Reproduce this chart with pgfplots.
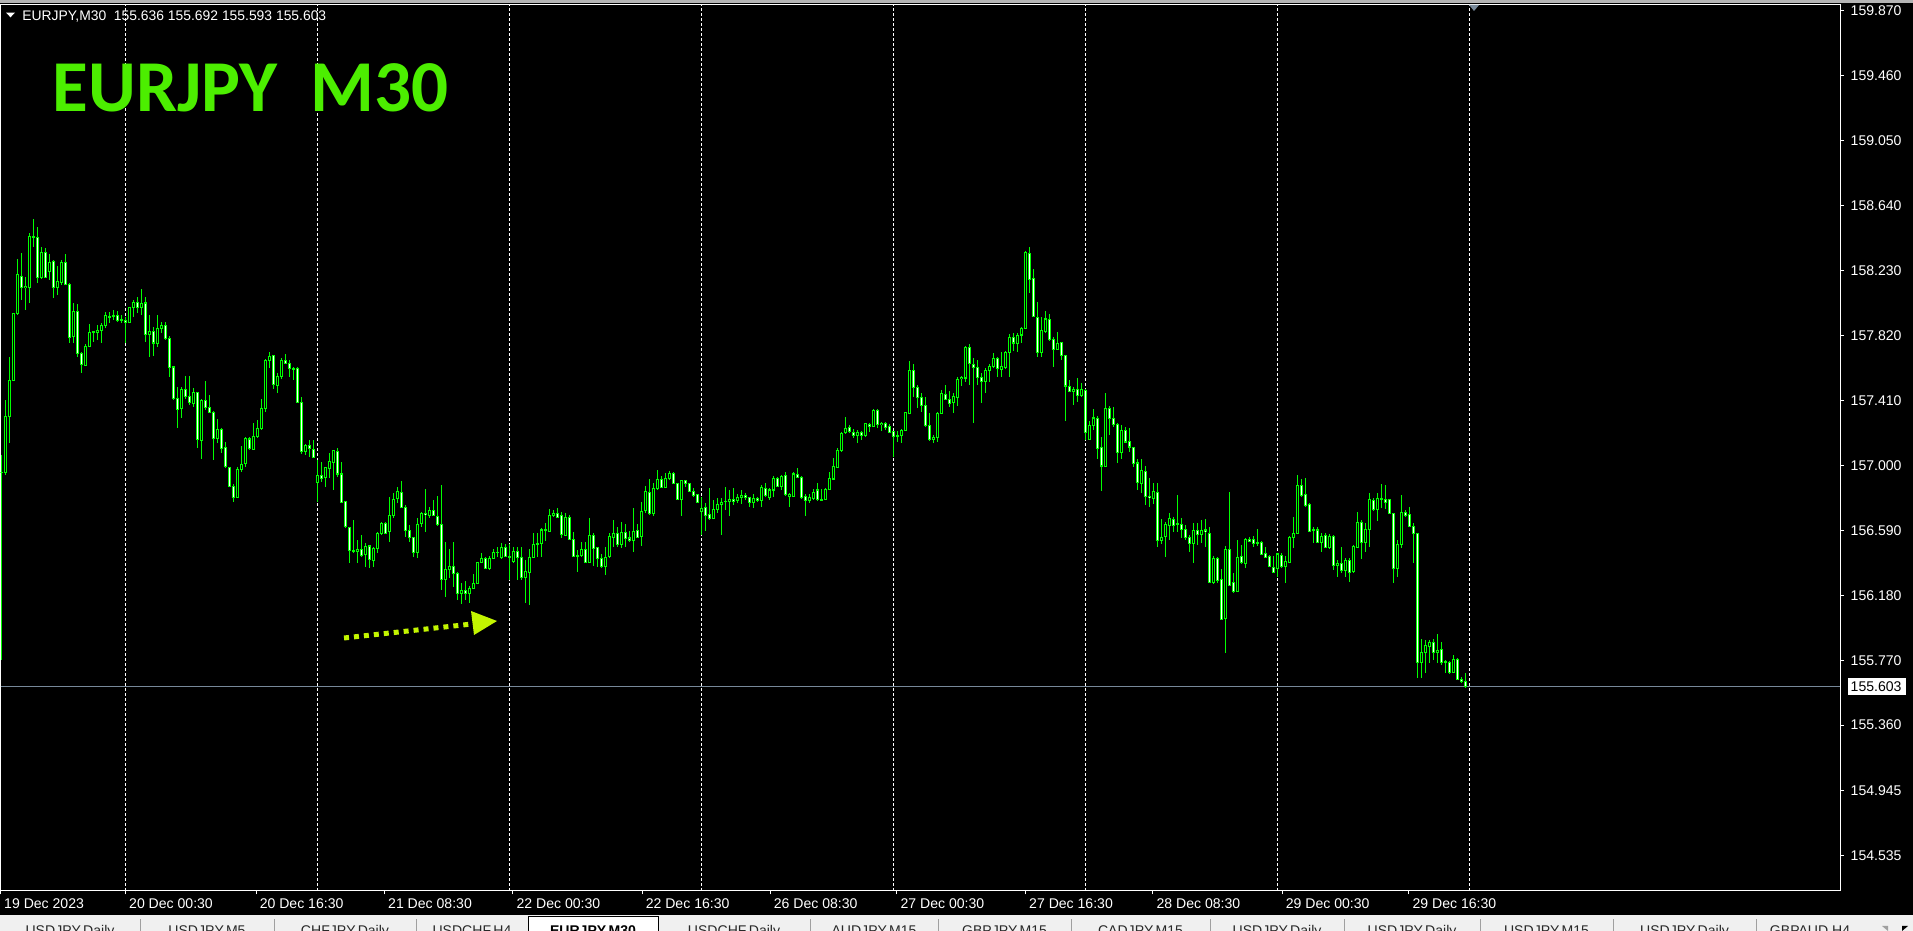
\documentclass[border=0pt]{standalone}
\usepackage{fontspec}
\setmainfont{Liberation Sans}
\newfontfamily\titlefont{Carlito}
\usepackage{pgfplots}
\usepackage{pgfplotstable}
\pgfplotsset{compat=1.18}
\definecolor{cndl}{RGB}{0,255,0}
\definecolor{titlegreen}{RGB}{76,238,0}
\definecolor{pricegray}{RGB}{119,136,153}
\definecolor{arrowgreen}{RGB}{195,245,0}
\definecolor{topgray}{RGB}{180,180,180}
\definecolor{tabgray}{RGB}{240,240,240}
\definecolor{sepgray}{RGB}{160,160,160}
\pgfplotstableread{
k o h l c
0 156.952 157.066 155.771 156.958
1 156.952 157.413 156.939 157.306
2 157.306 157.684 157.141 157.539
3 157.539 157.962 157.539 157.962
4 157.962 158.303 157.949 158.208
5 158.196 158.341 158.044 158.126
6 158.126 158.189 157.981 158.133
7 158.126 158.467 158.025 158.448
8 158.448 158.556 158.379 158.442
9 158.442 158.505 158.152 158.189
10 158.189 158.379 158.177 158.347
11 158.347 158.372 158.189 158.189
12 158.227 158.334 158.170 158.284
13 158.284 158.297 158.057 158.120
14 158.120 158.259 158.076 158.158
15 158.158 158.297 158.139 158.284
16 158.284 158.334 158.139 158.145
17 158.145 158.152 157.773 157.810
18 157.817 158.025 157.773 157.975
19 157.975 158.019 157.684 157.710
20 157.710 157.716 157.583 157.640
21 157.634 157.766 157.627 157.754
22 157.754 157.893 157.747 157.842
23 157.842 157.848 157.779 157.848
24 157.842 157.886 157.792 157.855
25 157.855 157.899 157.773 157.886
26 157.886 157.968 157.867 157.949
27 157.943 157.968 157.899 157.937
28 157.943 157.981 157.918 157.949
29 157.949 157.975 157.905 157.912
30 157.912 157.949 157.899 157.918
31 157.918 157.937 157.773 157.905
32 157.905 158.000 157.899 158.000
33 158.000 158.044 157.937 158.032
34 158.032 158.063 157.962 158.000
35 158.000 158.114 157.949 158.025
36 158.025 158.063 157.779 157.829
37 157.829 157.949 157.684 157.848
38 157.848 157.874 157.691 157.773
39 157.773 157.949 157.747 157.867
40 157.867 157.905 157.836 157.886
41 157.886 157.905 157.792 157.804
42 157.804 157.817 157.558 157.621
43 157.621 157.621 157.413 157.425
44 157.425 157.495 157.236 157.356
45 157.356 157.495 157.299 157.476
46 157.476 157.564 157.419 157.432
47 157.432 157.564 157.381 157.394
48 157.394 157.489 157.369 157.463
49 157.463 157.463 157.110 157.167
50 157.160 157.419 157.040 157.413
51 157.413 157.533 157.350 157.369
52 157.369 157.444 157.331 157.337
53 157.337 157.343 157.034 157.173
54 157.173 157.293 157.141 157.230
55 157.230 157.236 157.078 157.110
56 157.110 157.148 156.984 156.990
57 156.990 156.990 156.864 156.870
58 156.870 156.883 156.769 156.800
59 156.800 156.990 156.794 156.977
60 156.977 157.122 156.958 157.009
61 157.009 157.179 156.990 157.167
62 157.167 157.179 157.097 157.104
63 157.104 157.268 157.097 157.186
64 157.186 157.287 157.173 157.236
65 157.236 157.419 157.223 157.362
66 157.362 157.672 157.337 157.665
67 157.665 157.716 157.615 157.691
68 157.691 157.697 157.482 157.508
69 157.508 157.583 157.457 157.564
70 157.564 157.678 157.545 157.665
71 157.665 157.703 157.640 157.646
72 157.646 157.665 157.558 157.615
73 157.615 157.621 157.539 157.609
74 157.609 157.621 157.394 157.400
75 157.400 157.432 157.072 157.091
76 157.091 157.135 157.066 157.129
77 157.129 157.160 157.053 157.110
78 157.104 157.160 157.047 157.053
79 156.889 157.034 156.769 156.939
80 156.939 157.021 156.895 156.920
81 156.927 156.990 156.864 156.984
82 156.984 157.078 156.920 157.028
83 157.021 157.097 156.845 157.091
84 157.091 157.110 156.927 156.946
85 156.946 157.021 156.763 156.769
86 156.769 156.769 156.605 156.611
87 156.611 156.611 156.384 156.466
88 156.466 156.655 156.447 156.460
89 156.460 156.529 156.384 156.472
90 156.472 156.561 156.422 156.434
91 156.441 156.510 156.359 156.491
92 156.491 156.497 156.352 156.403
93 156.403 156.485 156.359 156.479
94 156.479 156.580 156.447 156.573
95 156.573 156.643 156.561 156.636
96 156.636 156.643 156.573 156.573
97 156.580 156.800 156.516 156.681
98 156.681 156.826 156.668 156.788
99 156.788 156.864 156.763 156.832
100 156.832 156.902 156.731 156.737
101 156.737 156.750 156.548 156.592
102 156.592 156.624 156.516 156.548
103 156.548 156.548 156.422 156.453
104 156.453 156.668 156.415 156.630
105 156.636 156.706 156.611 156.699
106 156.699 156.851 156.580 156.687
107 156.687 156.737 156.668 156.718
108 156.718 156.782 156.706 156.681
109 156.681 156.807 156.617 156.630
110 156.630 156.876 156.213 156.277
111 156.277 156.516 156.169 156.346
112 156.346 156.472 156.289 156.365
113 156.365 156.516 156.232 156.321
114 156.321 156.327 156.150 156.194
115 156.194 156.258 156.125 156.213
116 156.213 156.270 156.150 156.194
117 156.194 156.239 156.131 156.226
118 156.226 156.314 156.220 156.258
119 156.258 156.390 156.251 156.390
120 156.390 156.447 156.384 156.415
121 156.415 156.422 156.346 156.352
122 156.352 156.428 156.340 156.415
123 156.415 156.472 156.409 156.453
124 156.453 156.485 156.422 156.447
125 156.422 156.510 156.409 156.485
126 156.485 156.504 156.422 156.428
127 156.428 156.504 156.277 156.422
128 156.396 156.485 156.384 156.460
129 156.460 156.485 156.277 156.422
130 156.422 156.485 156.277 156.295
131 156.295 156.403 156.131 156.327
132 156.327 156.472 156.119 156.422
133 156.422 156.573 156.415 156.504
134 156.504 156.573 156.422 156.510
135 156.504 156.605 156.422 156.592
136 156.592 156.636 156.523 156.586
137 156.586 156.725 156.580 156.681
138 156.681 156.718 156.674 156.699
139 156.699 156.731 156.674 156.674
140 156.681 156.706 156.542 156.561
141 156.561 156.699 156.554 156.674
142 156.674 156.687 156.529 156.535
143 156.535 156.580 156.422 156.428
144 156.428 156.466 156.327 156.434
145 156.434 156.516 156.422 156.472
146 156.472 156.516 156.384 156.390
147 156.390 156.668 156.390 156.561
148 156.561 156.573 156.365 156.479
149 156.479 156.485 156.359 156.415
150 156.415 156.441 156.352 156.365
151 156.365 156.485 156.308 156.422
152 156.422 156.573 156.415 156.548
153 156.548 156.655 156.485 156.573
154 156.573 156.611 156.485 156.504
155 156.504 156.643 156.479 156.580
156 156.580 156.630 156.485 156.542
157 156.542 156.586 156.516 156.529
158 156.529 156.731 156.453 156.580
159 156.592 156.630 156.548 156.548
160 156.548 156.769 156.491 156.706
161 156.712 156.870 156.699 156.832
162 156.832 156.914 156.687 156.699
163 156.699 156.889 156.681 156.857
164 156.857 156.971 156.845 156.914
165 156.914 156.933 156.857 156.864
166 156.864 156.952 156.857 156.920
167 156.920 156.965 156.908 156.952
168 156.952 156.958 156.883 156.889
169 156.889 156.889 156.782 156.788
170 156.788 156.908 156.681 156.908
171 156.902 156.908 156.864 156.889
172 156.883 156.889 156.832 156.838
173 156.838 156.857 156.800 156.813
174 156.819 156.819 156.769 156.769
175 156.712 156.800 156.561 156.731
176 156.737 156.763 156.586 156.687
177 156.693 156.857 156.655 156.668
178 156.668 156.782 156.662 156.725
179 156.725 156.794 156.699 156.756
180 156.756 156.794 156.561 156.769
181 156.769 156.864 156.718 156.775
182 156.775 156.845 156.681 156.788
183 156.788 156.857 156.750 156.775
184 156.782 156.819 156.763 156.800
185 156.800 156.845 156.756 156.813
186 156.813 156.826 156.782 156.800
187 156.800 156.800 156.737 156.769
188 156.769 156.819 156.731 156.794
189 156.794 156.800 156.769 156.782
190 156.782 156.876 156.737 156.864
191 156.857 156.889 156.800 156.813
192 156.800 156.857 156.782 156.845
193 156.845 156.933 156.800 156.920
194 156.920 156.927 156.864 156.870
195 156.870 156.939 156.845 156.933
196 156.933 156.958 156.807 156.813
197 156.807 156.826 156.737 156.819
198 156.807 156.958 156.800 156.946
199 156.946 156.984 156.920 156.927
200 156.927 156.933 156.788 156.800
201 156.807 156.819 156.681 156.782
202 156.782 156.819 156.763 156.800
203 156.794 156.851 156.782 156.832
204 156.845 156.889 156.775 156.782
205 156.782 156.851 156.782 156.788
206 156.788 156.857 156.782 156.851
207 156.851 156.958 156.845 156.920
208 156.914 157.047 156.908 156.990
209 156.990 157.110 156.984 157.097
210 157.097 157.211 157.085 157.205
211 157.205 157.306 157.198 157.236
212 157.236 157.255 157.205 157.211
213 157.211 157.230 157.173 157.192
214 157.186 157.223 157.141 157.211
215 157.211 157.217 157.160 157.186
216 157.186 157.268 157.179 157.261
217 157.261 157.268 157.211 157.249
218 157.249 157.356 157.242 157.350
219 157.350 157.356 157.236 157.261
220 157.261 157.274 157.217 157.268
221 157.268 157.274 157.223 157.242
222 157.242 157.261 157.205 157.205
223 157.217 157.217 157.053 157.186
224 157.186 157.217 157.148 157.192
225 157.186 157.230 157.141 157.223
226 157.223 157.331 157.217 157.331
227 157.331 157.659 157.324 157.602
228 157.602 157.640 157.432 157.489
229 157.489 157.508 157.362 157.432
230 157.432 157.457 157.337 157.381
231 157.381 157.432 157.242 157.255
232 157.255 157.331 157.154 157.167
233 157.167 157.192 157.141 157.179
234 157.179 157.337 157.148 157.331
235 157.331 157.476 157.324 157.457
236 157.451 157.508 157.419 157.419
237 157.419 157.470 157.369 157.394
238 157.394 157.457 157.331 157.432
239 157.432 157.558 157.375 157.545
240 157.545 157.564 157.501 157.552
241 157.552 157.754 157.527 157.747
242 157.747 157.766 157.508 157.646
243 157.640 157.678 157.268 157.621
244 157.621 157.665 157.508 157.558
245 157.558 157.583 157.394 157.527
246 157.527 157.615 157.457 157.602
247 157.602 157.640 157.527 157.627
248 157.627 157.710 157.615 157.678
249 157.678 157.684 157.558 157.609
250 157.609 157.716 157.558 157.627
251 157.621 157.722 157.609 157.716
252 157.716 157.829 157.558 157.810
253 157.810 157.836 157.722 157.773
254 157.773 157.836 157.716 157.823
255 157.823 157.874 157.773 157.867
256 157.867 158.353 157.861 158.341
257 158.341 158.379 158.088 158.177
258 158.177 158.240 157.937 157.937
259 157.937 158.032 157.684 157.710
260 157.710 157.937 157.684 157.855
261 157.842 157.975 157.836 157.924
262 157.924 157.956 157.785 157.798
263 157.798 157.810 157.621 157.735
264 157.735 157.842 157.728 157.773
265 157.773 157.773 157.665 157.691
266 157.691 157.697 157.280 157.501
267 157.501 157.539 157.463 157.470
268 157.470 157.495 157.381 157.482
269 157.482 157.552 157.400 157.438
270 157.438 157.520 157.432 157.482
271 157.476 157.482 157.160 157.205
272 157.167 157.280 157.160 157.255
273 157.249 157.356 157.223 157.299
274 157.299 157.312 157.040 157.110
275 157.110 157.179 156.838 156.996
276 156.996 157.457 156.990 157.362
277 157.362 157.375 157.192 157.299
278 157.299 157.369 157.242 157.261
279 157.261 157.268 157.015 157.085
280 157.085 157.255 157.040 157.223
281 157.223 157.242 157.141 157.148
282 157.148 157.236 157.085 157.116
283 157.116 157.116 156.990 157.015
284 157.015 157.040 156.845 156.889
285 156.889 157.040 156.826 156.971
286 156.965 156.996 156.750 156.807
287 156.807 156.920 156.737 156.800
288 156.788 156.889 156.756 156.832
289 156.832 156.889 156.485 156.529
290 156.529 156.662 156.504 156.548
291 156.548 156.643 156.422 156.624
292 156.624 156.699 156.529 156.668
293 156.662 156.674 156.580 156.624
294 156.624 156.813 156.580 156.630
295 156.630 156.668 156.542 156.598
296 156.598 156.624 156.529 156.548
297 156.548 156.561 156.453 156.510
298 156.510 156.636 156.384 156.592
299 156.592 156.636 156.497 156.567
300 156.567 156.655 156.510 156.592
301 156.592 156.662 156.485 156.580
302 156.573 156.611 156.258 156.264
303 156.264 156.428 156.251 156.415
304 156.415 156.422 156.258 156.277
305 156.283 156.346 156.024 156.030
306 156.037 156.491 155.816 156.472
307 156.472 156.832 156.239 156.245
308 156.258 156.321 156.194 156.207
309 156.207 156.529 156.201 156.422
310 156.422 156.497 156.377 156.384
311 156.384 156.542 156.352 156.535
312 156.535 156.548 156.516 156.523
313 156.535 156.554 156.485 156.510
314 156.510 156.598 156.491 156.516
315 156.516 156.523 156.434 156.441
316 156.447 156.485 156.415 156.422
317 156.428 156.434 156.359 156.359
318 156.359 156.428 156.321 156.327
319 156.352 156.447 156.295 156.441
320 156.434 156.447 156.352 156.359
321 156.359 156.428 156.258 156.396
322 156.390 156.554 156.384 156.548
323 156.548 156.674 156.479 156.573
324 156.573 156.939 156.567 156.876
325 156.876 156.914 156.800 156.813
326 156.819 156.920 156.737 156.750
327 156.756 156.763 156.586 156.586
328 156.586 156.611 156.510 156.592
329 156.592 156.611 156.510 156.516
330 156.516 156.573 156.453 156.554
331 156.561 156.573 156.479 156.485
332 156.485 156.567 156.472 156.554
333 156.554 156.561 156.340 156.371
334 156.371 156.403 156.295 156.384
335 156.384 156.485 156.321 156.340
336 156.340 156.415 156.295 156.403
337 156.403 156.415 156.264 156.327
338 156.327 156.497 156.321 156.485
339 156.485 156.706 156.479 156.643
340 156.643 156.655 156.409 156.516
341 156.516 156.636 156.453 156.598
342 156.598 156.826 156.485 156.782
343 156.782 156.794 156.712 156.725
344 156.725 156.826 156.649 156.794
345 156.794 156.883 156.731 156.788
346 156.788 156.876 156.725 156.769
347 156.782 156.788 156.693 156.699
348 156.699 156.699 156.258 156.352
349 156.352 156.529 156.295 156.504
350 156.504 156.813 156.479 156.706
351 156.706 156.718 156.674 156.687
352 156.693 156.737 156.611 156.617
353 156.617 156.636 156.384 156.573
354 156.573 156.573 155.658 155.759
355 155.759 155.904 155.658 155.822
356 155.816 155.898 155.689 155.860
357 155.860 155.898 155.753 155.885
358 155.885 155.904 155.771 155.822
359 155.822 155.936 155.753 155.835
360 155.835 155.885 155.740 155.753
361 155.753 155.771 155.689 155.759
362 155.753 155.765 155.683 155.696
363 155.696 155.803 155.689 155.778
364 155.778 155.784 155.645 155.651
365 155.651 155.664 155.626 155.639
366 155.636 155.692 155.593 155.603
}\candles
\begin{document}
\begin{tikzpicture}[x=1mm,y=1mm]
\useasboundingbox (0,0) rectangle (191.3,93.1);
\clip (0,0) rectangle (191.3,93.1);
\fill[black] (0,0) rectangle (191.3,93.1);
\fill[topgray] (0,92.8) rectangle (191.3,93.1);
\begin{axis}[
  at={(0.05mm,4mm)}, anchor=south west,
  width=183.95mm, height=88.65mm, scale only axis,
  xmin=-0.3, xmax=459.575, ymin=154.3131, ymax=159.9096,
  axis line style={white, line width=0.1mm},
  xtick pos=bottom, ytick pos=right, yticklabel pos=right,
  tick align=outside, major tick length=0.35mm,
  tick style={white, line width=0.1mm},
  xtick={-0.29,30.95,63.6,95.7,127.8,160.1,192.1,223.8,255.95,287.8,320.1,351.8},
  xticklabels={19 Dec 2023,20 Dec 00:30,20 Dec 16:30,21 Dec 08:30,22 Dec 00:30,22 Dec 16:30,26 Dec 08:30,27 Dec 00:30,27 Dec 16:30,28 Dec 08:30,29 Dec 00:30,29 Dec 16:30},
  ytick={154.535,154.945,155.360,155.770,156.180,156.590,157.000,157.410,157.820,158.230,158.640,159.050,159.460,159.870},
  yticklabels={154.535,154.945,155.360,155.770,156.180,156.590,157.000,157.410,157.820,158.230,158.640,159.050,159.460,159.870},
  tick label style={font=\fontsize{4}{4.8}\selectfont, text=white, inner sep=0pt},
  xticklabel style={anchor=base west, xshift=0.3mm, yshift=-1.4mm},
  yticklabel style={anchor=west, xshift=0.65mm},
]
\draw[white, line width=0.1mm, dash pattern=on 0.3mm off 0.2mm] (axis cs:30.9,154.3131) -- (axis cs:30.9,159.9096);
\draw[white, line width=0.1mm, dash pattern=on 0.3mm off 0.2mm] (axis cs:78.9,154.3131) -- (axis cs:78.9,159.9096);
\draw[white, line width=0.1mm, dash pattern=on 0.3mm off 0.2mm] (axis cs:126.9,154.3131) -- (axis cs:126.9,159.9096);
\draw[white, line width=0.1mm, dash pattern=on 0.3mm off 0.2mm] (axis cs:174.9,154.3131) -- (axis cs:174.9,159.9096);
\draw[white, line width=0.1mm, dash pattern=on 0.3mm off 0.2mm] (axis cs:222.9,154.3131) -- (axis cs:222.9,159.9096);
\draw[white, line width=0.1mm, dash pattern=on 0.3mm off 0.2mm] (axis cs:270.9,154.3131) -- (axis cs:270.9,159.9096);
\draw[white, line width=0.1mm, dash pattern=on 0.3mm off 0.2mm] (axis cs:318.9,154.3131) -- (axis cs:318.9,159.9096);
\draw[white, line width=0.1mm, dash pattern=on 0.3mm off 0.2mm] (axis cs:366.9,154.3131) -- (axis cs:366.9,159.9096);
\draw[pricegray, line width=0.1mm] (axis cs:-0.3,155.603) -- (axis cs:459.575,155.603);
% wicks
\addplot[draw=none, mark=none, forget plot,
  error bars/.cd, y dir=both, y explicit, error mark=none,
  error bar style={draw=cndl, line width=0.1mm}]
  table[x=k, y expr={(\thisrow{h}+\thisrow{l})/2}, y error expr={(\thisrow{h}-\thisrow{l})/2}] {\candles};
% body outline
\addplot[draw=none, mark=none, forget plot,
  error bars/.cd, y dir=both, y explicit, error mark=none,
  error bar style={draw=cndl, line width=0.3mm}]
  table[x=k, y expr={(\thisrow{o}+\thisrow{c})/2}, y error expr={abs(\thisrow{o}-\thisrow{c})/2+0.0032}] {\candles};
% bear fill (white)
\addplot[draw=none, mark=none, forget plot,
  error bars/.cd, y dir=both, y explicit, error mark=none,
  error bar style={draw=white, line width=0.1mm}]
  table[x=k, y expr={(\thisrow{o}+\thisrow{c})/2}, y error expr={(\thisrow{o}>\thisrow{c})*max(abs(\thisrow{o}-\thisrow{c})/2-0.0032,0)}] {\candles};
% bull fill (black)
\addplot[draw=none, mark=none, forget plot,
  error bars/.cd, y dir=both, y explicit, error mark=none,
  error bar style={draw=black, line width=0.1mm}]
  table[x=k, y expr={(\thisrow{o}+\thisrow{c})/2}, y error expr={(\thisrow{o}<\thisrow{c})*max(abs(\thisrow{o}-\thisrow{c})/2-0.0032,0)}] {\candles};
\end{axis}
% current price label
\fill[white] (184.8,23.6) rectangle (190.6,25.25);
\node[anchor=west, inner sep=0pt, text=black, font=\fontsize{4}{4.8}\selectfont] at (185.0,24.43) {155.603};
% chart shift marker
\fill[pricegray] (146.9,92.6) -- (147.9,92.6) -- (147.4,92.0) -- cycle;
% header
\fill[white] (0.6,91.83) -- (1.5,91.83) -- (1.05,91.37) -- cycle;
\node[anchor=base west, inner sep=0pt, text=white, font=\fontsize{3.95}{4.7}\selectfont] at (2.17,91.03) {EURJPY,M30\ \ 155.636 155.692 155.593 155.603};
% title
\node[anchor=base west, inner sep=0pt, text=titlegreen, font=\titlefont\bfseries\fontsize{20.8}{24}\selectfont] at (5.2,81.9) {EURJPY\ \ M30};
% arrow
\draw[arrowgreen, line width=0.5mm, dash pattern=on 0.5mm off 0.5mm] (34.4,29.3) -- (47.2,30.7);
\fill[arrowgreen] (47.1,32.0) -- (47.4,29.6) -- (49.7,31.0) -- cycle;
% tab bar
\fill[tabgray] (0,0) rectangle (191.3,1.6);
\fill[white] (52.8,0) rectangle (65.8,1.4);
\draw[black, line width=0.1mm] (52.8,0) -- (52.8,1.4) -- (65.8,1.4) -- (65.8,0);
\foreach \s in {14.0,27.4,41.6,81.0,93.8,107.1,121.0,134.4,148.0,161.3,175.6}
  \draw[sepgray, line width=0.1mm] (\s,0) -- (\s,1.2);
\begin{scope}[every node/.style={anchor=base, inner sep=0pt, text={rgb,255:red,40;green,40;blue,40}, font=\fontsize{4}{4.8}\selectfont}]
\node at (7.0,-0.46) {USDJPY,Daily};
\node at (20.7,-0.46) {USDJPY,M5};
\node at (34.5,-0.46) {CHFJPY,Daily};
\node at (47.2,-0.46) {USDCHF,H4};
\node[text=black, font=\bfseries\fontsize{4}{4.8}\selectfont] at (59.3,-0.46) {EURJPY,M30};
\node at (73.4,-0.46) {USDCHF,Daily};
\node at (87.4,-0.46) {AUDJPY,M15};
\node at (100.45,-0.46) {GBPJPY,M15};
\node at (114.05,-0.46) {CADJPY,M15};
\node at (127.7,-0.46) {USDJPY,Daily};
\node at (141.2,-0.46) {USDJPY,Daily};
\node at (154.65,-0.46) {USDJPY,M15};
\node at (168.45,-0.46) {USDJPY,Daily};
\node at (181.0,-0.46) {GBPAUD,H4};
\end{scope}
\fill[sepgray] (188.2,0.5) -- (188.8,0.0) -- (188.8,0.5) -- cycle;
\fill[black] (190.2,0.0) -- (190.2,0.5) -- (190.8,0.5) -- cycle;
\end{tikzpicture}
\end{document}
